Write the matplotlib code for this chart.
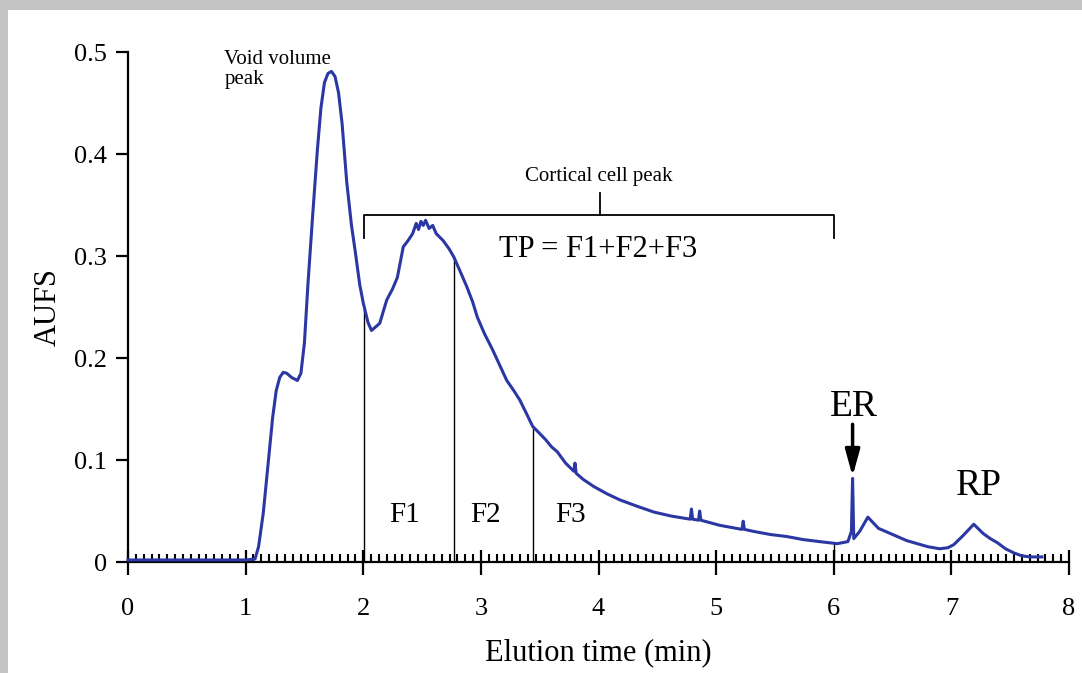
import numpy as np
import matplotlib
matplotlib.use('Agg')
import matplotlib.pyplot as plt
from matplotlib.patches import Rectangle

plt.rcParams['font.family'] = ['Liberation Serif', 'DejaVu Serif']

# elution profile
time_min = [0.0, 0.5, 1.0, 1.08, 1.11, 1.15, 1.19, 1.23, 1.26, 1.29, 1.32,
            1.35, 1.39, 1.44, 1.47, 1.50, 1.53, 1.57, 1.61, 1.64, 1.67, 1.70,
            1.73, 1.76, 1.79, 1.82, 1.86, 1.90, 1.93, 1.97, 2.0, 2.04, 2.07,
            2.10, 2.14, 2.2, 2.25, 2.29, 2.34, 2.38, 2.42, 2.45, 2.47, 2.49,
            2.51, 2.53, 2.56, 2.59, 2.62, 2.68, 2.73, 2.77, 2.82, 2.88, 2.93,
            2.97, 3.03, 3.1, 3.16, 3.22, 3.28, 3.33, 3.39, 3.44, 3.5, 3.55,
            3.6, 3.65, 3.72, 3.79, 3.80, 3.81, 3.87, 3.96, 4.07, 4.18, 4.32,
            4.47, 4.62, 4.78, 4.79, 4.80, 4.85, 4.86, 4.87, 5.03, 5.22, 5.23,
            5.24, 5.32, 5.46, 5.6, 5.74, 5.88, 6.03, 6.12, 6.15, 6.16, 6.17,
            6.22, 6.29, 6.38, 6.46, 6.54, 6.62, 6.71, 6.8, 6.9, 6.97, 7.02,
            7.1, 7.19, 7.27, 7.33, 7.39, 7.46, 7.53, 7.6, 7.67, 7.77]
aufs = [0.002, 0.002, 0.002, 0.003, 0.015, 0.048, 0.095, 0.142, 0.168, 0.181, 0.186,
        0.185, 0.181, 0.178, 0.185, 0.215, 0.273, 0.340, 0.404, 0.445, 0.470, 0.479,
        0.481, 0.476, 0.460, 0.430, 0.372, 0.330, 0.306, 0.272, 0.254, 0.235, 0.227,
        0.230, 0.234, 0.257, 0.268, 0.279, 0.309, 0.315, 0.322, 0.332, 0.326, 0.334,
        0.330, 0.335, 0.327, 0.330, 0.322, 0.315, 0.307, 0.299, 0.286, 0.270, 0.255,
        0.240, 0.224, 0.208, 0.193, 0.178, 0.168, 0.159, 0.145, 0.133, 0.126, 0.120,
        0.113, 0.108, 0.097, 0.089, 0.097, 0.087, 0.081, 0.074, 0.067, 0.061, 0.055,
        0.049, 0.045, 0.042, 0.052, 0.042, 0.041, 0.050, 0.041, 0.036, 0.032, 0.040,
        0.032, 0.030, 0.027, 0.025, 0.022, 0.020, 0.018, 0.020, 0.030, 0.082, 0.023,
        0.030, 0.044, 0.033, 0.029, 0.025, 0.021, 0.018, 0.015, 0.013, 0.014, 0.017,
        0.026, 0.037, 0.028, 0.023, 0.019, 0.013, 0.009, 0.006, 0.005, 0.005]

fraction_edges = [2.01, 2.77, 3.44, 6.0]
fraction_names = ['F1', 'F2', 'F3']
fraction_label_x = [2.35, 3.04, 3.76]

fig = plt.figure(figsize=(10.82, 6.73), dpi=100)
fig.patch.set_facecolor('#c4c4c4')
fig.add_artist(Rectangle((8 / 1082, 0), 1, (673 - 10) / 673, transform=fig.transFigure,
                         facecolor='white', edgecolor='none', zorder=-5))

ax = fig.add_axes([0.1183, 0.1649, 0.8697, 0.7578])
ax.set_facecolor('none')
ax.plot(time_min, aufs, color='#2B37A3', lw=2.2, zorder=3, clip_on=False,
        solid_joinstyle='round')

ax.set_xlim(0, 8)
ax.set_ylim(0, 0.5)
for s in ['top', 'right']:
    ax.spines[s].set_visible(False)
for s in ['left', 'bottom']:
    ax.spines[s].set_linewidth(1.6)

# major every minute, minor every 4 s
ax.set_xticks(range(9))
ax.set_xticks(np.linspace(0, 8, 121), minor=True)
ax.tick_params(axis='x', which='major', direction='inout', length=18, width=1.6,
               pad=17, labelsize=19)
ax.tick_params(axis='x', which='minor', direction='in', length=6, width=1.5)
ax.set_yticks([0, 0.1, 0.2, 0.3, 0.4, 0.5])
ax.set_yticklabels(['0', '0.1', '0.2', '0.3', '0.4', '0.5'])
ax.tick_params(axis='y', direction='out', length=9, width=1.6, pad=6, labelsize=19)

ax.set_xlabel('Elution time (min)', fontsize=22, labelpad=13)
ax.set_ylabel('AUFS', fontsize=22, labelpad=8)

# fraction dividers up to the curve
tops = np.interp(fraction_edges, time_min, aufs)
for x, t in zip(fraction_edges, tops):
    ax.plot([x, x], [0, t], color='black', lw=1.0, zorder=2)
for name, x in zip(fraction_names, fraction_label_x):
    ax.text(x, 0.046, name, fontsize=21, ha='center', va='center')

# cortical cell bracket
ax.plot([2.01, 2.01, 6.0, 6.0], [0.318, 0.34, 0.34, 0.318], color='black', lw=1.3)
ax.plot([4.01, 4.01], [0.34, 0.362], color='black', lw=1.3)
ax.text(4.0, 0.378, 'Cortical cell peak', fontsize=15, ha='center', va='center')
ax.text(4.0, 0.306, 'TP = F1+F2+F3', fontsize=22, ha='center', va='center')

ax.text(0.82, 0.502, 'Void volume\npeak', fontsize=15, ha='left', va='top', linespacing=1.1)

ax.annotate('', xy=(6.16, 0.084), xytext=(6.16, 0.135),
            arrowprops=dict(arrowstyle='-|>,head_length=0.8,head_width=0.22',
                            mutation_scale=20, lw=2.5, color='black',
                            shrinkA=0, shrinkB=0))
ax.text(6.17, 0.152, 'ER', fontsize=27, ha='center', va='center')
ax.text(7.23, 0.075, 'RP', fontsize=27, ha='center', va='center')

fig.savefig('out.png', dpi=100, facecolor=fig.get_facecolor())
